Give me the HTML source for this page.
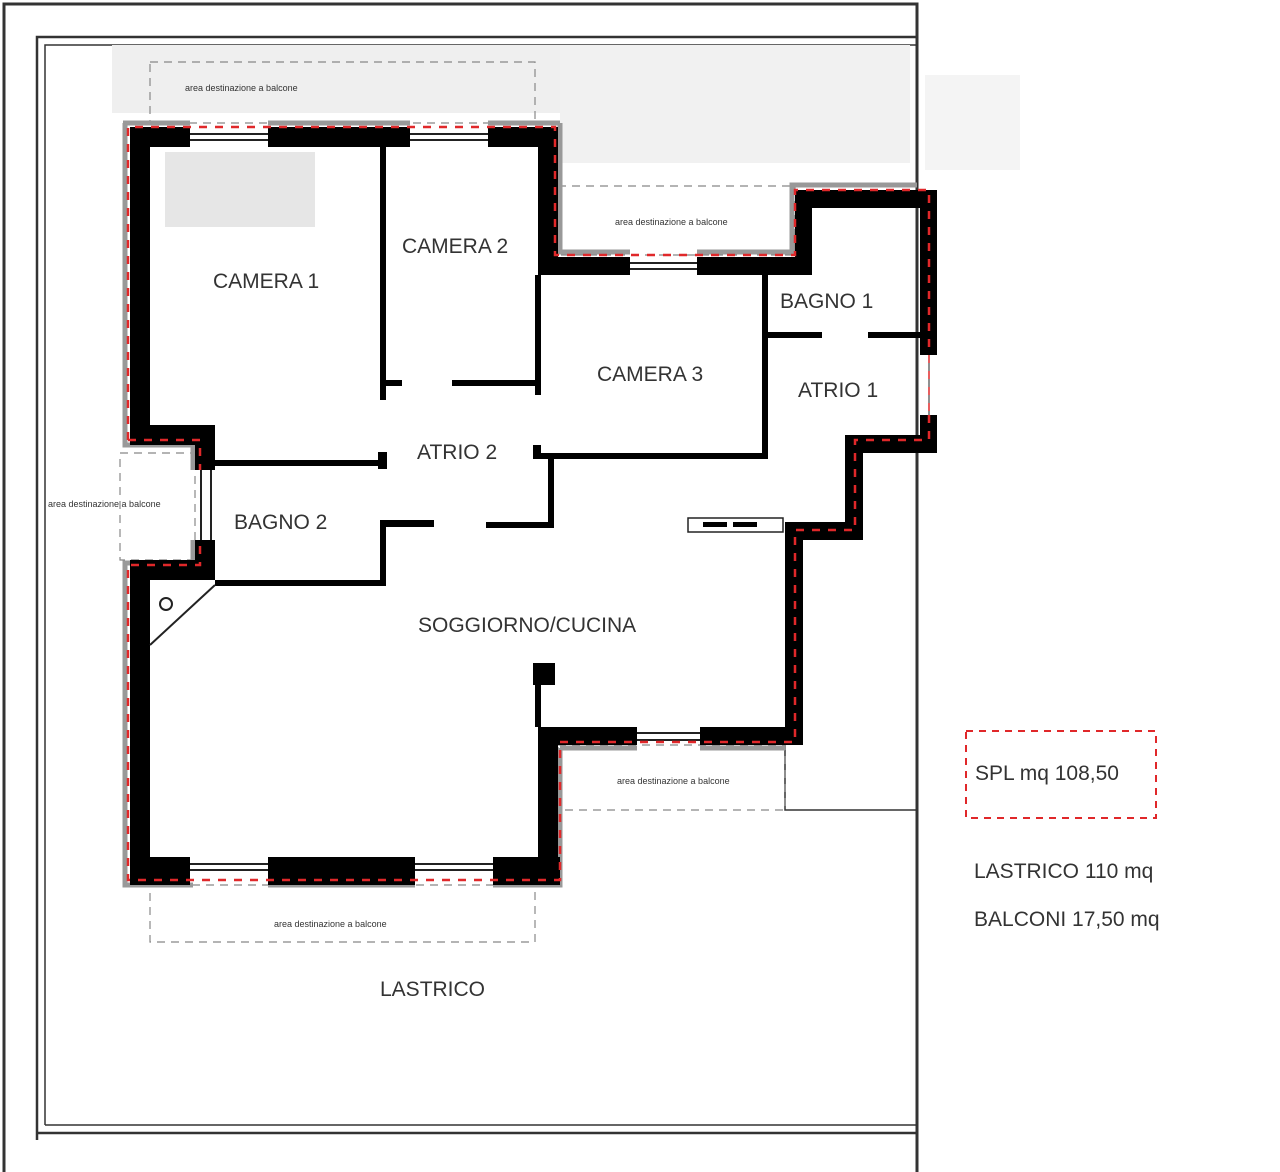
<!DOCTYPE html>
<html><head><meta charset="utf-8"><style>
html,body{margin:0;padding:0;background:#fff;width:1280px;height:1172px;overflow:hidden}
svg text{font-family:"Liberation Sans",sans-serif;fill:#333}
</style></head><body>
<svg width="1280" height="1172" viewBox="0 0 1280 1172" xmlns="http://www.w3.org/2000/svg">
<g fill="none" stroke="#333">
<polyline points="4,1172 4,4 917,4 917,1172" stroke-width="3"/>
<polyline points="37,1140 37,37 917,37" stroke-width="2.5"/>
<polyline points="45,1125 45,45 917,45" stroke-width="1.5"/>
<line x1="37" y1="1133" x2="917" y2="1133" stroke-width="2.5"/>
<line x1="45" y1="1125" x2="917" y2="1125" stroke-width="1.5"/>
<polyline points="785,745 785,810 917,810" stroke-width="1.5"/>
</g>
<g fill="#ececec">
<rect x="112" y="45" width="450" height="68" fill="#efefef"/>
<rect x="560" y="45" width="350" height="118" fill="#f1f1f1"/>
<rect x="925" y="75" width="95" height="95" fill="#f4f4f4"/>
<rect x="165" y="152" width="150" height="75" fill="#e6e6e6"/>
</g>
<g fill="none" stroke="#888" stroke-width="1.2" stroke-dasharray="8,6">
<rect x="150" y="62" width="385" height="61"/>
<rect x="558" y="186" width="237" height="69"/>
<rect x="120" y="453" width="75" height="107"/>
<rect x="558" y="745" width="227" height="65"/>
<rect x="150" y="885" width="385" height="57"/>
</g>
<g font-size="9" fill="#555"><text x="185" y="91">area destinazione a balcone</text>
<text x="615" y="225">area destinazione a balcone</text>
<text x="48" y="507">area destinazione a balcone</text>
<text x="617" y="784">area destinazione a balcone</text>
<text x="274" y="927">area destinazione a balcone</text></g>
<g fill="none" stroke="#999" stroke-width="5">
<polyline points="125,123 125,445 193,445 193,470"/>
<polyline points="193,540 193,563 125,563 125,885 193,885"/>
<line x1="123" y1="123" x2="190" y2="123"/>
<line x1="268" y1="123" x2="410" y2="123"/>
<line x1="488" y1="123" x2="560" y2="123"/>
<polyline points="560,123 560,252 630,252"/>
<polyline points="697,252 792,252 792,185 917,185"/>
<line x1="560" y1="748" x2="637" y2="748"/>
<line x1="700" y1="748" x2="785" y2="748"/>
<polyline points="560,748 560,885 493,885"/>
<line x1="268" y1="885" x2="415" y2="885"/>
</g>
<g fill="#000">
<rect x="130" y="127" width="60" height="20"/>
<rect x="268" y="127" width="142" height="20"/>
<rect x="488" y="127" width="70" height="20"/>
<rect x="130" y="127" width="20" height="318"/>
<rect x="130" y="425" width="85" height="20"/>
<rect x="195" y="425" width="20" height="45"/>
<rect x="195" y="540" width="20" height="40"/>
<rect x="130" y="560" width="85" height="20"/>
<rect x="130" y="560" width="20" height="325"/>
<rect x="130" y="857" width="60" height="28"/>
<rect x="268" y="857" width="147" height="28"/>
<rect x="493" y="857" width="67" height="28"/>
<rect x="538" y="727" width="20" height="158"/>
<rect x="538" y="727" width="99" height="18"/>
<rect x="700" y="727" width="103" height="18"/>
<rect x="785" y="522" width="18" height="223"/>
<rect x="785" y="522" width="78" height="18"/>
<rect x="845" y="435" width="18" height="105"/>
<rect x="845" y="435" width="92" height="18"/>
<rect x="920" y="415" width="17" height="38"/>
<rect x="920" y="190" width="17" height="165"/>
<rect x="795" y="190" width="142" height="18"/>
<rect x="795" y="190" width="17" height="85"/>
<rect x="697" y="257" width="115" height="18"/>
<rect x="538" y="257" width="92" height="18"/>
<rect x="538" y="127" width="20" height="148"/>
<rect x="380" y="140" width="6" height="260"/>
<rect x="386" y="380" width="16" height="6"/>
<rect x="452" y="380" width="86" height="6"/>
<rect x="535" y="275" width="6" height="120"/>
<rect x="762" y="275" width="6" height="184"/>
<rect x="768" y="332" width="54" height="6"/>
<rect x="868" y="332" width="52" height="6"/>
<rect x="533" y="445" width="8" height="14"/>
<rect x="535" y="453" width="233" height="6"/>
<rect x="548" y="456" width="6" height="72"/>
<rect x="486" y="522" width="68" height="6"/>
<rect x="215" y="460" width="170" height="6"/>
<rect x="378" y="452" width="9" height="17"/>
<rect x="380" y="520" width="6" height="66"/>
<rect x="380" y="520" width="54" height="7"/>
<rect x="215" y="580" width="171" height="6"/>
<rect x="533" y="663" width="22" height="22"/>
<rect x="535" y="663" width="6" height="64"/>
</g>
<g stroke="#222" stroke-width="2" fill="none">
<line x1="190" y1="134" x2="268" y2="134"/><line x1="190" y1="140" x2="268" y2="140"/>
<line x1="410" y1="134" x2="488" y2="134"/><line x1="410" y1="140" x2="488" y2="140"/>
<line x1="630" y1="263" x2="697" y2="263"/><line x1="630" y1="269" x2="697" y2="269"/>
<line x1="637" y1="733" x2="700" y2="733"/><line x1="637" y1="740" x2="700" y2="740"/>
<line x1="190" y1="864" x2="268" y2="864"/><line x1="190" y1="870" x2="268" y2="870"/>
<line x1="415" y1="864" x2="493" y2="864"/><line x1="415" y1="870" x2="493" y2="870"/>
<line x1="201" y1="470" x2="201" y2="540"/><line x1="211" y1="470" x2="211" y2="540"/>
<line x1="929" y1="355" x2="929" y2="415" stroke-width="1"/>
<line x1="150" y1="645" x2="215" y2="585" stroke-width="2"/>
<circle cx="166" cy="604" r="6"/>
<rect x="688" y="518" width="95" height="14" stroke-width="1.5"/>
</g>
<rect x="703" y="522" width="24" height="5" fill="#000"/><rect x="733" y="522" width="24" height="5" fill="#000"/>
<g fill="none" stroke="#e0282a" stroke-width="2.5" stroke-dasharray="8,8">
<polyline points="128,440 128,127 555,127 555,255 795,255 795,190 929,190 929,355"/>
<line x1="929" y1="355" x2="929" y2="415" stroke-width="1.5"/>
<polyline points="929,415 929,440 855,440 855,530 795,530 795,742 560,742 560,880 128,880 128,565 200,565 200,540"/>
<polyline points="128,440 200,440 200,470"/>
<rect x="966" y="731" width="190" height="87" stroke-width="2" stroke-dasharray="7,6"/>
</g>
<g font-size="21">
<text x="213" y="288">CAMERA 1</text>
<text x="402" y="253">CAMERA 2</text>
<text x="597" y="381">CAMERA 3</text>
<text x="780" y="308">BAGNO 1</text>
<text x="798" y="397">ATRIO 1</text>
<text x="417" y="459">ATRIO 2</text>
<text x="234" y="529">BAGNO 2</text>
<text x="418" y="632">SOGGIORNO/CUCINA</text>
<text x="380" y="996">LASTRICO</text>
<text x="975" y="780">SPL mq 108,50</text>
<text x="974" y="878">LASTRICO 110 mq</text>
<text x="974" y="926">BALCONI 17,50 mq</text>
</g>
</svg>
</body></html>
